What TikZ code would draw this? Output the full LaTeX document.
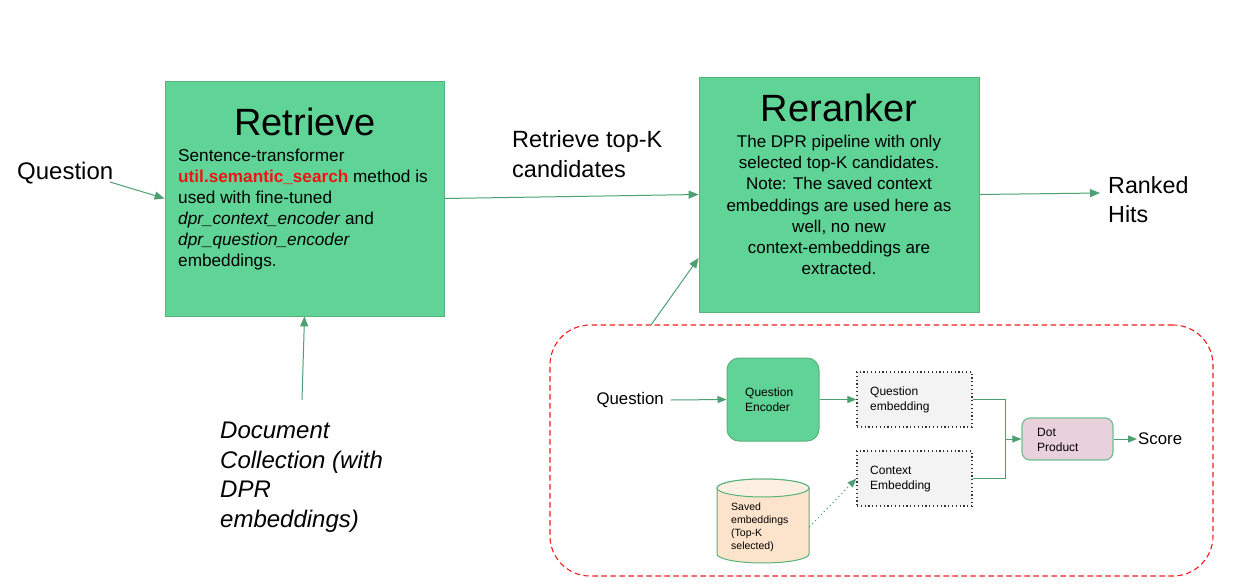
\documentclass[tikz,border=0pt]{standalone}
\usepackage{fontspec}
\setmainfont{Liberation Sans}
\usetikzlibrary{arrows.meta,calc}
\definecolor{boxgreen}{RGB}{96,211,150}
\definecolor{boxedge}{RGB}{88,178,124}
\definecolor{arrgreen}{RGB}{76,160,114}
\definecolor{embfill}{RGB}{243,243,243}
\definecolor{dotfill}{RGB}{232,208,220}
\definecolor{cylfill}{RGB}{252,228,204}
\definecolor{cyltop}{RGB}{253,240,227}
\definecolor{dashred}{RGB}{240,30,30}
\definecolor{kwred}{RGB}{240,20,20}
\tikzset{
  bigbox/.style={draw=boxedge, line width=0.8pt, fill=boxgreen, inner sep=0pt},
  arr/.style={draw=arrgreen, line width=1pt, -{Triangle[length=10pt,width=8pt]}},
  arrsmall/.style={draw=arrgreen, line width=1pt, -{Triangle[length=9pt,width=7pt]}},
  plainline/.style={draw=arrgreen, line width=1pt},
  embbox/.style={draw=black!80, line width=1.2pt, dash pattern=on 1.2pt off 2.6pt, fill=embfill, inner sep=0pt, minimum width=115pt, minimum height=55pt},
  lbl/.style={inner sep=0pt, align=left, text=black},
}
\begin{document}
\begin{tikzpicture}[x=1pt,y=-1pt]
\useasboundingbox (0,0) rectangle (1235,586);
\fill[white] (0,0) rectangle (1235,586);

% Retrieve box
\node[bigbox, minimum width=279pt, minimum height=235pt] (ret) at (304.5,198.5) {};
\node[inner sep=0pt, font=\fontsize{38}{40}\selectfont] (rettitle) at (305,122) {Retrieve};
\node[lbl, anchor=west, font=\fontsize{17.2}{21}\selectfont] (retbody) at (178,210) {Sentence-transformer\\
{\color{kwred}\bfseries util.semantic\_search} method is\\
used with fine-tuned\\
\textit{dpr\_context\_encoder} and\\
\textit{dpr\_question\_encoder}\\
embeddings.};

% Reranker box
\node[bigbox, minimum width=280pt, minimum height=235pt] (rer) at (839,194.5) {};
\node[inner sep=0pt, font=\fontsize{38}{40}\selectfont] (rertitle) at (839,108) {Reranker};
\node[lbl, align=center, font=\fontsize{17}{21.1}\selectfont] (rerbody) at (839,205) {The DPR pipeline with only\\
selected top-K candidates.\\
Note: The saved context\\
embeddings are used here as\\
well, no new\\
context-embeddings are\\
extracted.};

% outer labels
\node[lbl, anchor=west, font=\fontsize{24}{29}\selectfont] (q) at (17,173) {Question};
\node[lbl, anchor=west, font=\fontsize{23.5}{30}\selectfont] (topk) at (512,154) {Retrieve top-K\\candidates};
\node[lbl, anchor=west, font=\fontsize{23.3}{29}\selectfont] (hits) at (1108,200) {Ranked\\Hits};
\node[lbl, anchor=west, font=\fontsize{24}{29.5}\selectfont\itshape] (doc) at (220,477) {Document\\Collection (with\\DPR\\embeddings)};

% outer connectors
\coordinate (qstart) at (110,182);
\draw[arr] (qstart) -- (ret.west);
\coordinate (docstart) at (302,400);
\draw[arr] (docstart) -- (ret.south);
\draw[arr] (ret.east) -- (rer.west);
\coordinate (hitsend) at (1100,193);
\draw[arr] (rer.east) -- (hitsend);

% dashed box
\node[draw=dashred, dash pattern=on 5.5pt off 3.5pt, line width=1.1pt, rounded corners=40pt, minimum width=663pt, minimum height=251pt, inner sep=0pt] (dbox) at (881.5,450.5) {};
\coordinate (dtop) at (651,325);
\draw[arr] (dtop) -- ([yshift=-63.5pt]rer.west);

% inner diagram
\node[lbl, anchor=east, font=\fontsize{16.8}{20}\selectfont] (iq) at (664,400) {Question};
\node[draw=boxedge, line width=1pt, fill=boxgreen, rounded corners=12pt, minimum width=92pt, minimum height=83pt, inner sep=0pt] (qe) at (773,399.5) {};
\node[lbl, anchor=west, font=\fontsize{12}{15}\selectfont] (qetext) at (745,400) {Question\\Encoder};
\node[embbox] (qemb) at (914.5,399.5) {};
\node[lbl, anchor=west, font=\fontsize{12}{15}\selectfont] (qembtext) at (870,400) {Question\\embedding};
\node[embbox] (cemb) at (914.5,478.5) {};
\node[lbl, anchor=west, font=\fontsize{12}{15}\selectfont] (cembtext) at (870,479) {Context\\Embedding};
\node[draw=boxedge!85, line width=1.2pt, fill=dotfill, rounded corners=8pt, minimum width=91pt, minimum height=42pt, inner sep=0pt] (dot) at (1067.5,439) {};
\node[lbl, anchor=west, font=\fontsize{12}{15}\selectfont] (dottext) at (1037,439.5) {Dot\\Product};
\node[lbl, anchor=west, font=\fontsize{16.8}{20}\selectfont] (score) at (1138,439) {Score};

% cylinder
\node[inner sep=0pt, minimum width=92pt, minimum height=84pt] (cyl) at (763,521) {};
\path[fill=cylfill, draw=boxedge, line width=1pt] (717,488) -- (717,554) arc[start angle=180, end angle=0, x radius=46, y radius=9] -- (809,488) arc[start angle=0, end angle=-180, x radius=46, y radius=9] -- cycle;
\path[fill=cyltop, draw=boxedge, line width=1pt] (763,488) ellipse[x radius=46, y radius=9];
\node[lbl, anchor=west, font=\fontsize{10.5}{13}\selectfont] (cyltext) at (731,527) {Saved\\embeddings\\(Top-K\\selected)};

% inner connectors
\draw[arrsmall] ([xshift=7pt]iq.east) -- (qe.west);
\draw[arrsmall] (qe.east) -- (qemb.west);
\draw[plainline] (qemb.east) -- ++(33,0) coordinate (j1) |- (cemb.east);
\draw[arrsmall] (j1 |- dot.west) -- (dot.west);
\draw[arrsmall] (dot.east) -- ([xshift=-1pt]score.west);
\draw[draw=arrgreen, line width=1pt, dash pattern=on 1.2pt off 3pt, -{Triangle[length=9pt,width=7pt]}] ([yshift=-6pt]cyl.east) -- (cemb.west);
\end{tikzpicture}
\end{document}
